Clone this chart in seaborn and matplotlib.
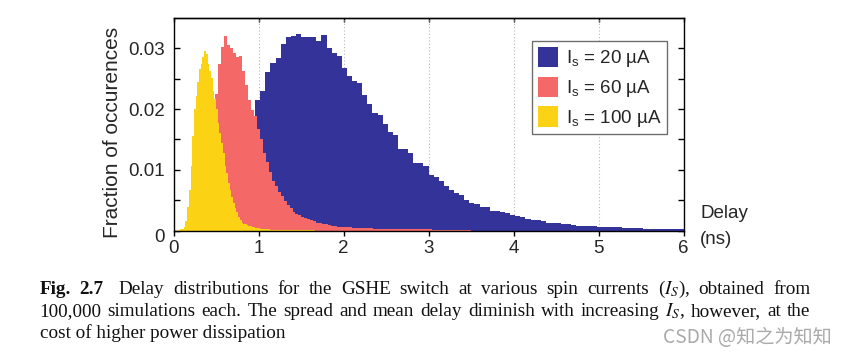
import numpy as np
import pandas as pd
import matplotlib
matplotlib.use("Agg")
import matplotlib.pyplot as plt
import matplotlib.transforms as mtransforms
from matplotlib.patches import Patch
import seaborn as sns

# ---------------- data (fraction of occurrences per bin) ----------------
blue_range = (0.0, 6.0)     # I_s = 20 uA, 100 bins
red_range = (0.0, 3.5)      # I_s = 60 uA, 100 bins
yellow_range = (0.0, 2.0)   # I_s = 100 uA, 100 bins

blue_frac = [
    0, 0, 0, 0.00005, 0.0002, 0.0006, 0.0013, 0.0024, 0.0038, 0.0055,
    0.0075, 0.0095, 0.0115, 0.0135, 0.0155, 0.0175,
    0.0215, 0.0230, 0.0261, 0.0276, 0.0284, 0.0308, 0.0318, 0.0320, 0.0324, 0.0319,
    0.0319, 0.0319, 0.0312, 0.0322, 0.0300,
    0.0292, 0.0287, 0.0267, 0.0254, 0.0246, 0.0243, 0.0223, 0.0208, 0.0194, 0.0190,
    0.0175, 0.0163, 0.0158, 0.0134, 0.0135, 0.0128,
    0.0112, 0.0112, 0.0107, 0.0092, 0.0088, 0.0081, 0.0074, 0.0067, 0.0062, 0.0058,
    0.0050, 0.0045, 0.0043, 0.0038, 0.0038, 0.0032, 0.0032, 0.0030, 0.0028, 0.0026,
    0.0024, 0.0022, 0.0019, 0.0017, 0.0017, 0.0016,
    0.0012, 0.0013, 0.0012, 0.0011, 0.0011, 0.0009, 0.0008, 0.0008, 0.0008, 0.0008,
    0.0006, 0.0006,
    0.0005, 0.0005, 0.0005, 0.0004, 0.0004, 0.0004, 0.0004, 0.0003, 0.0003, 0.0003,
    0.0003, 0.0002, 0.0002, 0.0002, 0.0002,
]

red_frac = [
    0, 0, 0, 0.00005, 0.0001, 0.0003, 0.0008, 0.0015, 0.0028, 0.0045,
    0.0068, 0.0098, 0.0145, 0.0190,
    0.0225, 0.0275, 0.0302, 0.0320, 0.0305, 0.0300, 0.0292, 0.0285, 0.0288, 0.0262,
    0.0240, 0.0215, 0.0198, 0.0188,
    0.0168, 0.0150, 0.0128, 0.0113, 0.0097, 0.0082, 0.0073, 0.0064, 0.0056, 0.0048,
    0.0042, 0.0037, 0.0031, 0.0027, 0.0025, 0.0023, 0.0020, 0.0019,
    0.0017, 0.0015, 0.0013, 0.0012, 0.0011, 0.0010, 0.0009, 0.0008, 0.0007, 0.0006,
    0.0006, 0.0005, 0.0005, 0.0005, 0.0004,
    0.0004, 0.0004, 0.0004, 0.0004, 0.0004, 0.0004,
    0.0003, 0.0003, 0.0003, 0.0003, 0.0003, 0.0003, 0.0003, 0.0003,
    0.0002, 0.0002, 0.0002, 0.0002, 0.0002, 0.0002, 0.0002, 0.0002, 0.0002, 0.0002,
    0.0002, 0.0002,
    0.0001, 0.0001, 0.0001, 0.0001, 0.0001, 0.0001, 0.0001, 0.0001, 0.0001, 0.0001,
    0.0001, 0.0001, 0.0001,
]

yellow_frac = [
    0, 0, 0.00005, 0.0001, 0.0002, 0.0003,
    0.0006, 0.0015, 0.0039, 0.0067, 0.0106, 0.0155, 0.0200, 0.0222, 0.0244, 0.0266,
    0.0274, 0.0285, 0.0296, 0.0290,
    0.0274, 0.0263, 0.0252, 0.0230, 0.0216, 0.0200, 0.0177, 0.0161, 0.0144, 0.0128,
    0.0106, 0.0095, 0.0078, 0.0067,
    0.0056, 0.0045, 0.0037, 0.0031, 0.0023, 0.0017, 0.0013, 0.0011, 0.0010, 0.0009,
    0.0008, 0.0007, 0.0006, 0.0005,
    0.0004, 0.0004, 0.0004, 0.0003, 0.0003, 0.0003, 0.0002, 0.0002,
    0.0002, 0.00015, 0.00015, 0.00015, 0.00015, 0.0001, 0.0001, 0.0001, 0.0001, 0.0001,
    0.0001, 0.0001, 0.0001, 0.0001, 0.0001,
    0.00005, 0.00005, 0.00005, 0.00005, 0.00005, 0.00005, 0.00005, 0.00005, 0.00005,
    0.00005, 0.00005, 0.00005,
    0, 0, 0, 0, 0, 0, 0, 0, 0, 0, 0, 0, 0, 0, 0, 0, 0,
]

series_labels = [r"I$_\mathregular{s}$ = 20 µA",
                 r"I$_\mathregular{s}$ = 60 µA",
                 r"I$_\mathregular{s}$ = 100 µA"]
x_ticks = [0, 1, 2, 3, 4, 5, 6]
y_ticks = [0, 0.005, 0.01, 0.015, 0.02, 0.025, 0.03]
y_ticklabels = ["0", "", "0.01", "", "0.02", "", "0.03"]

BLUE = "#333399"
RED = "#F46868"
YELLOW = "#FBD314"

# ---------------- figure ----------------
sns.set_theme(style="white")
plt.rcParams["font.family"] = ["Liberation Sans", "DejaVu Sans"]

W, H = 847, 356
fig = plt.figure(figsize=(W / 100, H / 100), dpi=100)
x0, x1, ytop, ybot = 173.5, 683.5, 18.0, 230.5
ax = fig.add_axes([x0 / W, 1 - ybot / H, (x1 - x0) / W, (ybot - ytop) / H])


def draw(frac, rng, color):
    frac = np.asarray(frac, dtype=float)
    edges = np.linspace(rng[0], rng[1], len(frac) + 1)
    centers = 0.5 * (edges[:-1] + edges[1:])
    df = pd.DataFrame({"delay": centers, "frac": frac})
    sns.histplot(data=df, x="delay", weights="frac", bins=edges.tolist(),
                 element="step", fill=True, color=color, alpha=1, linewidth=0, ax=ax)


draw(blue_frac, blue_range, BLUE)
draw(red_frac, red_range, RED)
draw(yellow_frac, yellow_range, YELLOW)

ax.set_xlim(0, 6)
ax.set_ylim(0, 0.035)
ax.set_xlabel("")
ax.set_ylabel("Fraction of occurences", fontsize=15, labelpad=0)
ax.yaxis.set_label_coords(-0.101, 0.4635)

ax.set_xticks(x_ticks)
ax.set_xticklabels([str(t) for t in x_ticks])
ax.set_yticks(y_ticks)
ax.set_yticklabels(y_ticklabels)

ax.set_axisbelow(True)
for xv in x_ticks[1:-1]:
    ax.axvline(xv, color="#b8b8b8", lw=0.8, ls=(0, (1, 2)), zorder=0.5)

for s in ax.spines.values():
    s.set_visible(True)
    s.set_color("black")
    s.set_linewidth(1.0)

ax.tick_params(axis="y", which="both", direction="in", left=True, right=True,
               length=4, width=1, labelsize=13.5, pad=6, color="black")
ax.tick_params(axis="x", which="both", direction="out", bottom=True, top=False,
               length=3.5, width=1, labelsize=13.5, pad=3, color="black")

secx = ax.secondary_xaxis("top")
secx.set_xticks(x_ticks)
secx.tick_params(direction="in", length=3, width=1, labeltop=False, color="black")
secx.spines["top"].set_linewidth(1.0)

# shift the y "0" label slightly down as in the reference
ytk = ax.yaxis.get_major_ticks()[0]
ytk.label1.set_transform(ytk.label1.get_transform() +
                         mtransforms.ScaledTranslation(0, -5 / 100, fig.dpi_scale_trans))

# axis unit text
ax.text((700 - x0) / (x1 - x0), (ybot - 218.5) / (ybot - ytop), "Delay",
        transform=ax.transAxes, ha="left", va="baseline", fontsize=13.5)
ax.text((700 - x0) / (x1 - x0), (ybot - 243.5) / (ybot - ytop), "(ns)",
        transform=ax.transAxes, ha="left", va="baseline", fontsize=13.5)

# legend
handles = [Patch(facecolor=c, edgecolor="none") for c in (BLUE, RED, YELLOW)]
leg = ax.legend(handles, series_labels, loc="upper right",
                bbox_to_anchor=((667 - x0) / (x1 - x0), (ybot - 41) / (ybot - ytop)),
                borderaxespad=0, fontsize=13.5, frameon=True, fancybox=False,
                handlelength=1.1, handleheight=1.28, handletextpad=0.4,
                labelspacing=0.4, borderpad=0.3, framealpha=1)
leg.get_frame().set_edgecolor("#6e6e6e")
leg.get_frame().set_linewidth(1.0)

# ---------------- caption ----------------
fig.canvas.draw()
renderer = fig.canvas.get_renderer()
CAP = dict(family=["Liberation Serif", "DejaVu Serif"], fontsize=13.8,
           math_fontfamily="stix", va="baseline", ha="left", color="#111111")
CAP_L, CAP_R = 39.5, 810.5


def justified(words, y_px, left, right, extra_after=None, extra_gap=0.0):
    arts, widths = [], []
    for w, extra in words:
        kw = dict(CAP)
        kw.update(extra)
        t = fig.text(0, 1 - y_px / H, w, **kw)
        arts.append(t)
        widths.append(t.get_window_extent(renderer).width)
    n = len(words)
    gap = (right - left - sum(widths) - extra_gap) / (n - 1)
    x = left
    for i, (t, wd) in enumerate(zip(arts, widths)):
        t.set_x(x / W)
        x += wd + gap + (extra_gap if i == extra_after else 0)


line1 = [("Fig.", {"weight": "bold"}), ("2.7", {"weight": "bold"})] + \
    [(w, {}) for w in "Delay distributions for the GSHE switch at various spin currents ($I_S$), obtained from".split(" ")]
line2 = [(w, {}) for w in "100,000 simulations each. The spread and mean delay diminish with increasing $I_S$, however, at the".split(" ")]

justified(line1, 293.5, CAP_L, CAP_R, extra_after=1, extra_gap=6.0)
justified(line2, 316, CAP_L, CAP_R)
fig.text(CAP_L / W, 1 - 338 / H, "cost of higher power dissipation", **CAP)

fig.text(663 / W, 1 - 343 / H, "CSDN @知之为知知", fontsize=13.8, color="#aaaaaa",
         family=["Noto Sans CJK SC", "DejaVu Sans"], ha="left", va="baseline")

fig.savefig("out.png", dpi=100)
